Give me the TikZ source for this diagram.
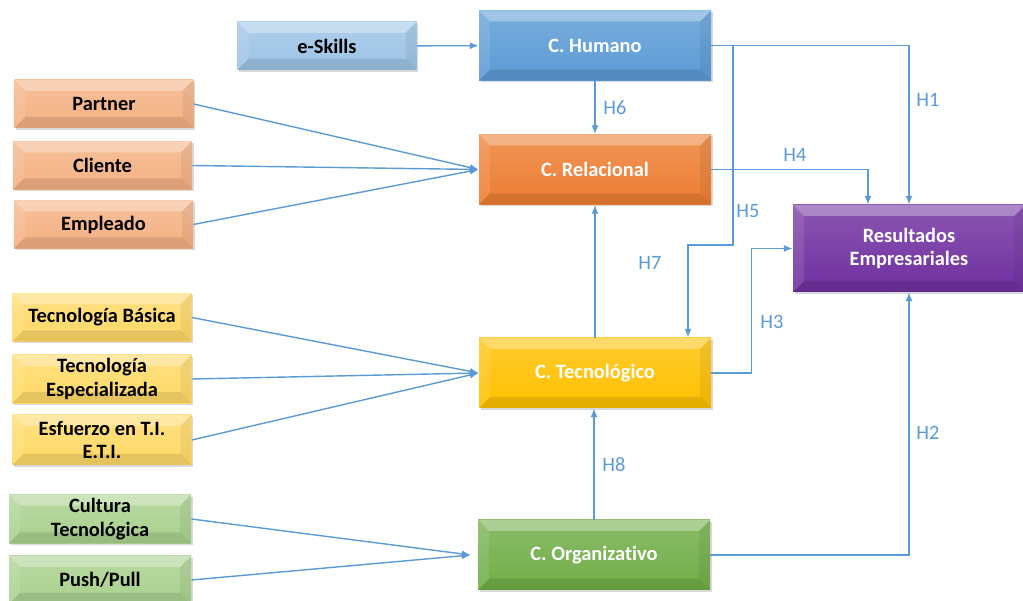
\documentclass[tikz,border=0pt]{standalone}
\usepackage{fontspec}
\setmainfont{Carlito}[Ligatures=NoCommon]
\usetikzlibrary{arrows.meta,shadows}
\definecolor{linkblue}{HTML}{5B9BD5}
\definecolor{humblue}{HTML}{5B9BD5}
\definecolor{skillblue}{HTML}{9DC3E6}
\definecolor{relorange}{HTML}{ED7D31}
\definecolor{relsalmon}{HTML}{F4B183}
\definecolor{tecgold}{HTML}{FFC000}
\definecolor{tecyellow}{HTML}{FFD966}
\definecolor{orggreen}{HTML}{70AD47}
\definecolor{orglight}{HTML}{A9D18E}
\definecolor{respurple}{HTML}{7030A0}
\newcommand{\bevelw}{0.22cm}
\tikzset{
  tint/.style={top color=#1!82!white, bottom color=#1},
  bevel/.style={path picture={
    \path (path picture bounding box.north west) coordinate (bnw)
          (path picture bounding box.north east) coordinate (bne)
          (path picture bounding box.south west) coordinate (bsw)
          (path picture bounding box.south east) coordinate (bse);
    \fill[white,opacity=.3] (bnw) -- (bne) -- ([shift={(-\bevelw,-\bevelw)}]bne) -- ([shift={(\bevelw,-\bevelw)}]bnw) -- cycle;
    \fill[white,opacity=.1] (bnw) -- ([shift={(\bevelw,-\bevelw)}]bnw) -- ([shift={(\bevelw,\bevelw)}]bsw) -- (bsw) -- cycle;
    \fill[black,opacity=.1] (bsw) -- ([shift={(\bevelw,\bevelw)}]bsw) -- ([shift={(-\bevelw,\bevelw)}]bse) -- (bse) -- cycle;
    \fill[black,opacity=.06] (bne) -- (bse) -- ([shift={(-\bevelw,\bevelw)}]bse) -- ([shift={(-\bevelw,-\bevelw)}]bne) -- cycle;
  }}
}
\tikzstyle{box}=[draw=none, align=center, inner sep=2pt, font=\bfseries\fontsize{11.6}{13.6}\selectfont, drop shadow={opacity=.3, shadow xshift=.03cm, shadow yshift=-.04cm}, bevel]
\tikzstyle{core}=[box, text=white, minimum width=4.64cm, minimum height=1.4cm]
\tikzstyle{item}=[box, text=black, minimum width=3.58cm, minimum height=0.96cm]
\tikzstyle{link}=[-{Latex[length=5pt,width=4pt]}, draw=linkblue, line width=0.8pt]
\tikzstyle{hyp}=[text=linkblue, font=\fontsize{11.6}{13.6}\selectfont]

\begin{document}
\begin{tikzpicture}
    \useasboundingbox (0,0) rectangle (20.46,-12.02);

    % capital blocks
    \node [core, tint=humblue] (humano) at (11.9, -0.91) {C. Humano};
    \node [core, tint=relorange] (relacional) at (11.9, -3.39) {C. Relacional};
    \node [core, tint=tecgold] (tecno) at (11.9, -7.46) {C. Tecnol\'ogico};
    \node [core, tint=orggreen] (organiz) at (11.88, -11.1) {C. Organizativo};
    \node [core, tint=respurple, minimum height=1.74cm] (resultados) at (18.18, -4.97) {Resultados\\Empresariales};

    % indicators
    \node [item, tint=skillblue] (eskills) at (6.54, -0.92) {e-Skills};
    \node [item, tint=relsalmon] (partner) at (2.08, -2.08) {Partner};
    \node [item, tint=relsalmon] (cliente) at (2.05, -3.31) {Cliente};
    \node [item, tint=relsalmon] (empleado) at (2.07, -4.49) {Empleado};
    \node [item, tint=tecyellow] (basica) at (2.04, -6.35) {Tecnolog\'ia B\'asica};
    \node [item, tint=tecyellow] (especial) at (2.04, -7.58) {Tecnolog\'ia\\Especializada};
    \node [item, tint=tecyellow, minimum height=1.0cm] (esfuerzo) at (2.04, -8.8) {Esfuerzo en T.I.\\E.T.I.};
    \node [item, tint=orglight, minimum width=3.64cm] (cultura) at (2.0, -10.38) {Cultura\\Tecnol\'ogica};
    \node [item, tint=orglight, minimum width=3.64cm] (push) at (2.0, -11.6) {Push/Pull};

    \draw [link] (eskills) -- (humano);
    \foreach \n in {partner, cliente, empleado}
        \draw [link] (\n.east) -- (relacional.west);
    \foreach \n in {basica, especial, esfuerzo}
        \draw [link] (\n.east) -- (tecno.west);
    \foreach \n in {cultura, push}
        \draw [link] (\n.east) -- ([xshift=-0.14cm]organiz.west);

    % hypotheses
    \coordinate (h5a) at (14.66, -0.91);
    \coordinate (h5b) at (14.66, -4.9);
    \draw [link] (humano) -- (relacional);
    \draw [link] (humano.east) -| (resultados.north);
    \draw [link] (h5a) -- (h5b) -| ([xshift=1.86cm]tecno.north);
    \draw [link] (relacional.east) -| ([xshift=-0.82cm]resultados.north);
    \draw [link] (tecno) -- (relacional);
    \draw [link] (tecno.east) -- ++(0.8,0) |- (resultados.west);
    \draw [link] (organiz.north) -- (organiz.north |- tecno.south);
    \draw [link] (organiz.east) -| (resultados.south);

    \node [hyp] (h1) at (18.56, -2.0) {H1};
    \node [hyp] (h2) at (18.56, -8.66) {H2};
    \node [hyp] (h3) at (15.44, -6.44) {H3};
    \node [hyp] (h4) at (15.9, -3.1) {H4};
    \node [hyp] (h5) at (14.96, -4.22) {H5};
    \node [hyp] (h6) at (12.3, -2.16) {H6};
    \node [hyp] (h7) at (13.0, -5.26) {H7};
    \node [hyp] (h8) at (12.28, -9.3) {H8};
\end{tikzpicture}
\end{document}
